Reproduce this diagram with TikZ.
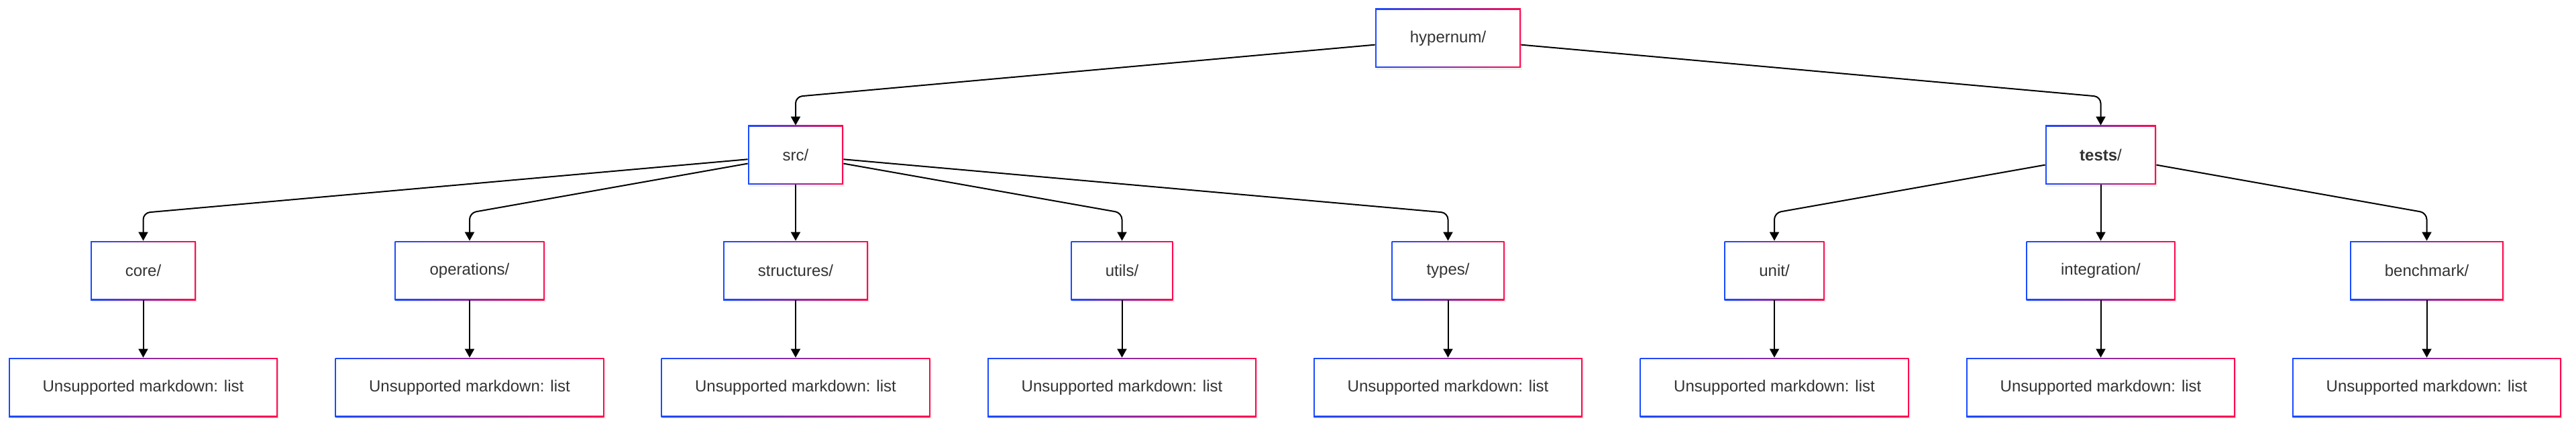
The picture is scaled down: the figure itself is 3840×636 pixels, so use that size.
\documentclass[tikz,border=0pt]{standalone}
\usepackage{fontspec}
\setmainfont{Liberation Sans}
\usetikzlibrary{arrows.meta,shadows}
\definecolor{bblue}{RGB}{25,75,255}
\definecolor{bred}{RGB}{255,10,80}
\definecolor{txt}{HTML}{333333}
\tikzset{
  box/.style={rectangle, inner sep=0pt, minimum height=44pt, fill=white,
    text=txt, font=\fontsize{12pt}{14pt}\selectfont,
    drop shadow={opacity=0.12, shadow xshift=1pt, shadow yshift=-1.5pt},
    path picture={
      \shade[left color=bblue, right color=bred]
        (path picture bounding box.south west) rectangle (path picture bounding box.north east);
      \fill[white]
        ([shift={(0.8pt,0.8pt)}]path picture bounding box.south west) rectangle
        ([shift={(-0.8pt,-0.8pt)}]path picture bounding box.north east);
    }},
  bw/.style={minimum width=#1*0.5pt},
  edge/.style={draw=black, line width=1pt, rounded corners=5pt,
    -{Triangle[length=6.5pt,width=7pt]}},
}
\begin{document}
\begin{tikzpicture}[x=0.5pt,y=-0.5pt]
\useasboundingbox (0,0) rectangle (3840,636);
% level 1
\node[box,bw=217] (hyper) at (2158.5,57) {hypernum/};
% level 2
\node[box,bw=142] (src) at (1186,231) {src/};
\node[box,bw=165] (tests) at (3131.5,231) {\textbf{tests}/};
% level 3
\node[box,bw=157] (core) at (213.5,403) {core/};
\node[box,bw=223] (ops) at (700,403) {operations/};
\node[box,bw=216] (struct) at (1186,403) {structures/};
\node[box,bw=152] (utils) at (1672.5,403) {utils/};
\node[box,bw=168] (types) at (2158.5,403) {types/};
\node[box,bw=149] (unit) at (2645,403) {unit/};
\node[box,bw=222] (integ) at (3131.5,403) {integration/};
\node[box,bw=229] (bench) at (3617.5,403) {benchmark/};
% leaves
\foreach \n/\x in {core/213.5, ops/700, struct/1186, utils/1672.5, types/2158.5, unit/2645, integ/3131.5, bench/3617.5}{
  \node[box,bw=401] (\n-l) at (\x,577) {Unsupported markdown: list};
}
% bend points
\coordinate (b-src) at (1186,144);
\coordinate (b-tests) at (3131.5,144);
\coordinate (b-core) at (213.5,317);
\coordinate (b-ops) at (700,317);
\coordinate (b-utils) at (1672.5,317);
\coordinate (b-types) at (2158.5,317);
\coordinate (b-unit) at (2645,317);
\coordinate (b-bench) at (3617.5,317);
% edges
\draw[edge] (hyper) -- (b-src) -- (src);
\draw[edge] (hyper) -- (b-tests) -- (tests);
\draw[edge] (src) -- (b-core) -- (core);
\draw[edge] (src) -- (b-ops) -- (ops);
\draw[edge] (src) -- (struct);
\draw[edge] (src) -- (b-utils) -- (utils);
\draw[edge] (src) -- (b-types) -- (types);
\draw[edge] (tests) -- (b-unit) -- (unit);
\draw[edge] (tests) -- (integ);
\draw[edge] (tests) -- (b-bench) -- (bench);
\foreach \n in {core,ops,struct,utils,types,unit,integ,bench}{
  \draw[edge] (\n) -- (\n-l);
}
\end{tikzpicture}
\end{document}
